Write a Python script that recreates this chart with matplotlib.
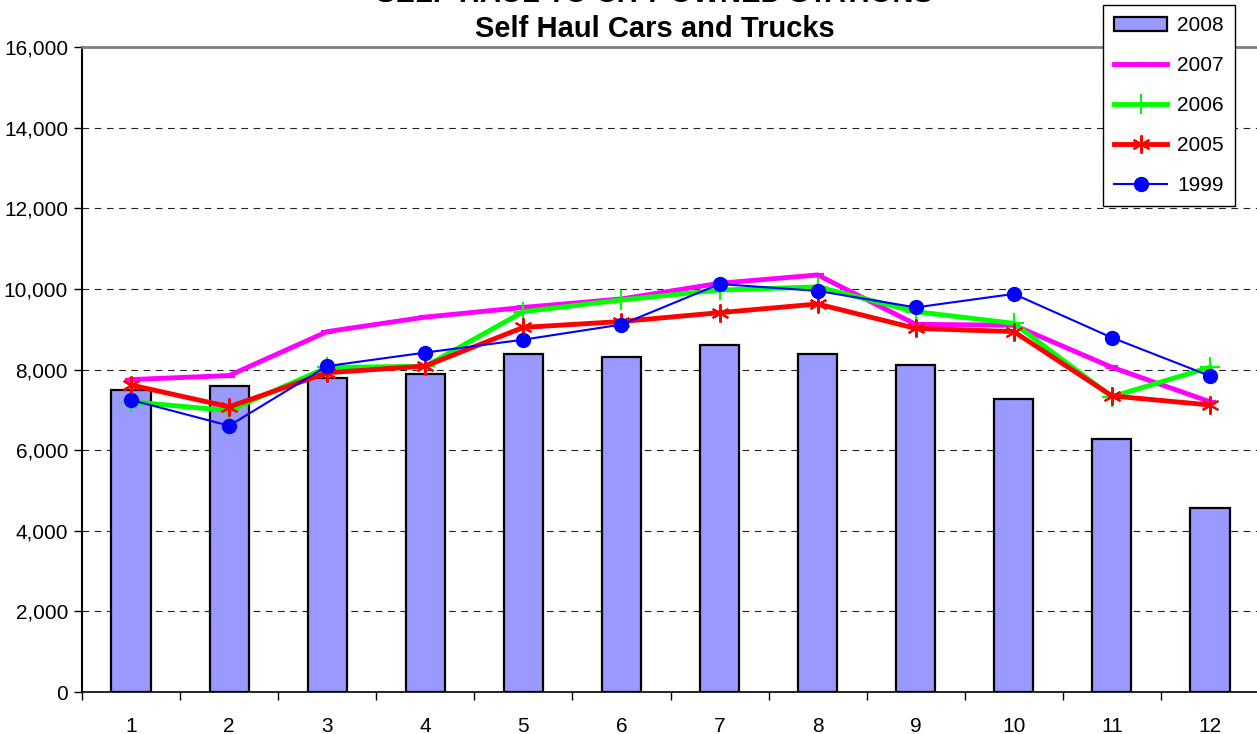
import matplotlib.pyplot as plt
import numpy as np
from matplotlib.ticker import FuncFormatter, FixedLocator, NullFormatter

plt.rcParams['font.family'] = ['Liberation Sans', 'DejaVu Sans']

months = list(range(1, 13))
y2008 = [7500, 7590, 7790, 7890, 8385, 8310, 8610, 8385, 8110, 7270, 6275, 4565]
y2007 = [7750, 7850, 8940, 9300, 9540, 9750, 10140, 10345, 9120, 9100, 8055, 7200]
y2006 = [7200, 6980, 8050, 8080, 9435, 9725, 9970, 10050, 9435, 9145, 7325, 8055]
y2005 = [7615, 7075, 7920, 8085, 9045, 9190, 9410, 9625, 9020, 8940, 7345, 7120]
y1999 = [7245, 6605, 8085, 8420, 8740, 9115, 10120, 9950, 9540, 9875, 8790, 7840]

fig = plt.figure(figsize=(12.57, 7.34), dpi=100)
ax = fig.add_axes([82 / 1257, 42 / 734, 1177 / 1257, 645 / 734])

bars = ax.bar(months, y2008, width=0.4, color='#9999ff', edgecolor='black', linewidth=1.6,
              label='2008', zorder=2)
l07, = ax.plot(months, y2007, color='#ff00ff', lw=3.5, marker='_', ms=9, mew=3, label='2007', zorder=3)
l06, = ax.plot(months, y2006, color='#00ff00', lw=3.5, marker='+', ms=14, mew=1.5, label='2006', zorder=4)
l05, = ax.plot(months, y2005, color='#ff0000', lw=3.5, marker=(6, 2, 0), ms=13, mew=1.5, label='2005', zorder=5)
l99, = ax.plot(months, y1999, color='#0000ff', lw=1.5, marker='o', ms=10, label='1999', zorder=6)

ax.set_xlim(0.5, 12.5)
ax.set_ylim(0, 16000)
ax.set_yticks(range(0, 16001, 2000))
ax.yaxis.set_major_formatter(FuncFormatter(lambda v, p: f'{int(v):,}'))
ax.grid(axis='y', color='#222222', linestyle=(0, (6, 5)), linewidth=0.8, zorder=1)

ax.set_xticks(months)
ax.tick_params(axis='x', which='major', length=0, pad=18)
ax.xaxis.set_minor_locator(FixedLocator(np.arange(0.5, 13, 1)))
ax.xaxis.set_minor_formatter(NullFormatter())
ax.tick_params(axis='x', which='minor', length=6, width=1, direction='out')
ax.tick_params(axis='y', length=6, width=1, direction='out', pad=4)
ax.tick_params(labelsize=15)

ax.spines['left'].set_linewidth(1.5)
ax.spines['bottom'].set_linewidth(1.2)
ax.spines['top'].set_color('#808080')
ax.spines['top'].set_linewidth(2)
ax.spines['right'].set_color('#808080')

# first title line sits mostly above the image, as in the original
fig.text(0.521, 1.008, 'SELF HAUL TO CITY OWNED STATIONS', ha='center', va='center',
         fontsize=21, fontweight='bold')
fig.text(0.521, 0.960, 'Self Haul Cars and Trucks', ha='center', va='center',
         fontsize=21, fontweight='bold')

leg = ax.legend(handles=[bars, l07, l06, l05, l99],
                loc='upper left', bbox_to_anchor=(1103 / 1257, 1 - 5 / 734),
                bbox_transform=fig.transFigure, frameon=True, fancybox=False,
                fontsize=15, handlelength=2.5, labelspacing=1.0, borderpad=0.55,
                handletextpad=0.5, borderaxespad=0, framealpha=1)
leg.get_frame().set_edgecolor('black')
leg.get_frame().set_linewidth(1)

fig.savefig('out.png', dpi=100)
